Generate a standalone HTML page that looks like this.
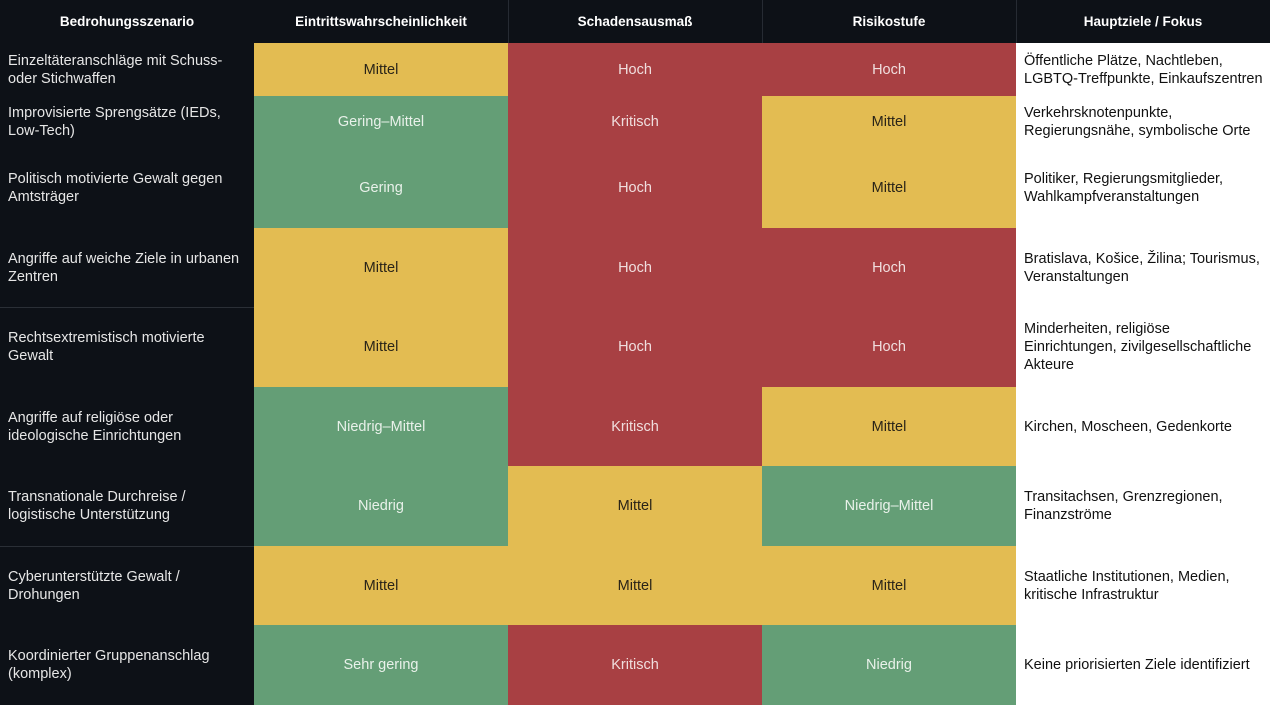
<!DOCTYPE html>
<html><head><meta charset="utf-8"><style>
body{margin:0;width:1270px;height:715px;background:#fff;font-family:"Liberation Sans","DejaVu Sans",sans-serif;overflow:hidden}
.c{position:absolute;display:flex;align-items:center;box-sizing:border-box;font-size:14.5px;line-height:18px}
.h{background:#0d1117;color:#fff;font-weight:bold;justify-content:center;font-size:13.5px}
.n{background:#0d1117;color:#e6e6e6;padding-left:8px}
.y{background:#e3bc52;color:#2a2418;justify-content:center}
.g{background:#649e76;color:#e9f1ea;justify-content:center}
.r{background:#a84043;color:#f0dede;justify-content:center}
.w{background:#fff;color:#111;padding-left:8px}
</style></head><body>
<div id="t"></div>
<script>
const cols=[0,254,508,762,1016,1270];
const rows=[43,96,148,228,307,387,466,546,625,705];
const H=["Bedrohungsszenario","Eintrittswahrscheinlichkeit","Schadensausmaß","Risikostufe","Hauptziele / Fokus"];
const D=[
["Einzeltäteranschläge mit Schuss-<br>oder Stichwaffen","y:Mittel","r:Hoch","r:Hoch","Öffentliche Plätze, Nachtleben,<br>LGBTQ-Treffpunkte, Einkaufszentren"],
["Improvisierte Sprengsätze (IEDs,<br>Low-Tech)","g:Gering–Mittel","r:Kritisch","y:Mittel","Verkehrsknotenpunkte,<br>Regierungsnähe, symbolische Orte"],
["Politisch motivierte Gewalt gegen<br>Amtsträger","g:Gering","r:Hoch","y:Mittel","Politiker, Regierungsmitglieder,<br>Wahlkampfveranstaltungen"],
["Angriffe auf weiche Ziele in urbanen<br>Zentren","y:Mittel","r:Hoch","r:Hoch","Bratislava, Košice, Žilina; Tourismus,<br>Veranstaltungen"],
["Rechtsextremistisch motivierte<br>Gewalt","y:Mittel","r:Hoch","r:Hoch","Minderheiten, religiöse<br>Einrichtungen, zivilgesellschaftliche<br>Akteure"],
["Angriffe auf religiöse oder<br>ideologische Einrichtungen","g:Niedrig–Mittel","r:Kritisch","y:Mittel","Kirchen, Moscheen, Gedenkorte"],
["Transnationale Durchreise /<br>logistische Unterstützung","g:Niedrig","y:Mittel","g:Niedrig–Mittel","Transitachsen, Grenzregionen,<br>Finanzströme"],
["Cyberunterstützte Gewalt /<br>Drohungen","y:Mittel","y:Mittel","y:Mittel","Staatliche Institutionen, Medien,<br>kritische Infrastruktur"],
["Koordinierter Gruppenanschlag<br>(komplex)","g:Sehr gering","r:Kritisch","g:Niedrig","Keine priorisierten Ziele identifiziert"]];
let s='';
function cell(cls,x0,x1,y0,y1,txt){s+=`<div class="c ${cls}" style="left:${x0}px;top:${y0}px;width:${x1-x0}px;height:${y1-y0}px">${txt}</div>`}
for(let i=0;i<5;i++)cell('h',cols[i],cols[i+1],0,43,H[i]);
D.forEach((r,j)=>{const y0=rows[j],y1=rows[j+1];
 cell('n',0,254,y0,y1,r[0]);
 for(let i=1;i<4;i++){const [c,t]=r[i].split(':');cell(c,cols[i],cols[i+1],y0,y1,t);}
 cell('w',1016,1270,y0,y1,r[4]);
});
s+='<div style="position:absolute;left:0;top:307px;width:254px;height:1px;background:#2a2f36"></div>';
s+='<div style="position:absolute;left:0;top:546px;width:254px;height:1px;background:#2a2f36"></div>';
[508,762,1016].forEach(x=>s+=`<div style="position:absolute;left:${x}px;top:0;width:1px;height:43px;background:#262b33"></div>`);
document.getElementById('t').innerHTML=s;
</script>
</body></html>
